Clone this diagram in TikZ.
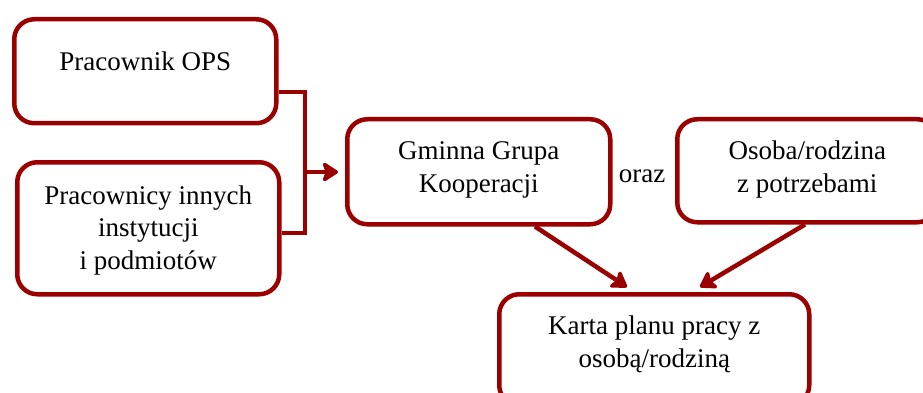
\documentclass[tikz,border=0pt]{standalone}
\usepackage{fontspec}
\setmainfont{Liberation Serif}
\usetikzlibrary{arrows.meta}
\definecolor{dred}{RGB}{155,0,0}
\begin{document}
\begin{tikzpicture}[x=1pt,y=-1pt,
  box/.style={draw=dred, line width=4.5pt, rounded corners=20pt, inner sep=0pt,
    align=center, anchor=north west, font=\fontsize{27}{33}\selectfont},
  conn/.style={draw=dred, line width=4.5pt, line join=miter},
  arr/.style={conn, -{Stealth[length=18pt,width=23pt,inset=4pt,round]}},
  txt/.style={font=\fontsize{27}{33}\selectfont, anchor=base}]
\useasboundingbox (0,0) rectangle (923,393);
\node[box, minimum width=262pt, text height=51pt, text depth=53pt] (a) at (12,17) {Pracownik OPS};
\node[box, minimum width=262pt, text height=107pt, text depth=25pt,
  font=\fontsize{27}{32.5}\selectfont] (b) at (15,160) {Pracownicy innych\\instytucji\\i podmiotów};
\node[box, minimum width=263pt, text height=73pt, text depth=32pt] (g) at (345,117) {Gminna Grupa\\Kooperacji};
\node[box, minimum width=260pt, text height=73pt, text depth=30pt] (o) at (675,117) {Osoba/rodzina\\z potrzebami};
\node[box, minimum width=310pt, text height=73pt, text depth=38pt] (k) at (497,292) {Karta planu pracy z\\osobą/rodziną};
\node[txt] (oraz) at (642,182) {oraz};
\coordinate (j1) at (305,92);
\coordinate (j2) at (305,233);
\coordinate (j) at (305,172);
\draw[conn] (a.east |- j1) -- (j1) -- (j2) -- (b.east |- j2);
\draw[arr, shorten >=7pt] (j) -- (g.west |- j);
\draw[arr] ([xshift=190pt]g.south west) -- ([xshift=130pt,yshift=5pt]k.north west);
\draw[arr] ([xshift=130pt]o.south west) -- ([xshift=203pt,yshift=5pt]k.north west);
\end{tikzpicture}
\end{document}
